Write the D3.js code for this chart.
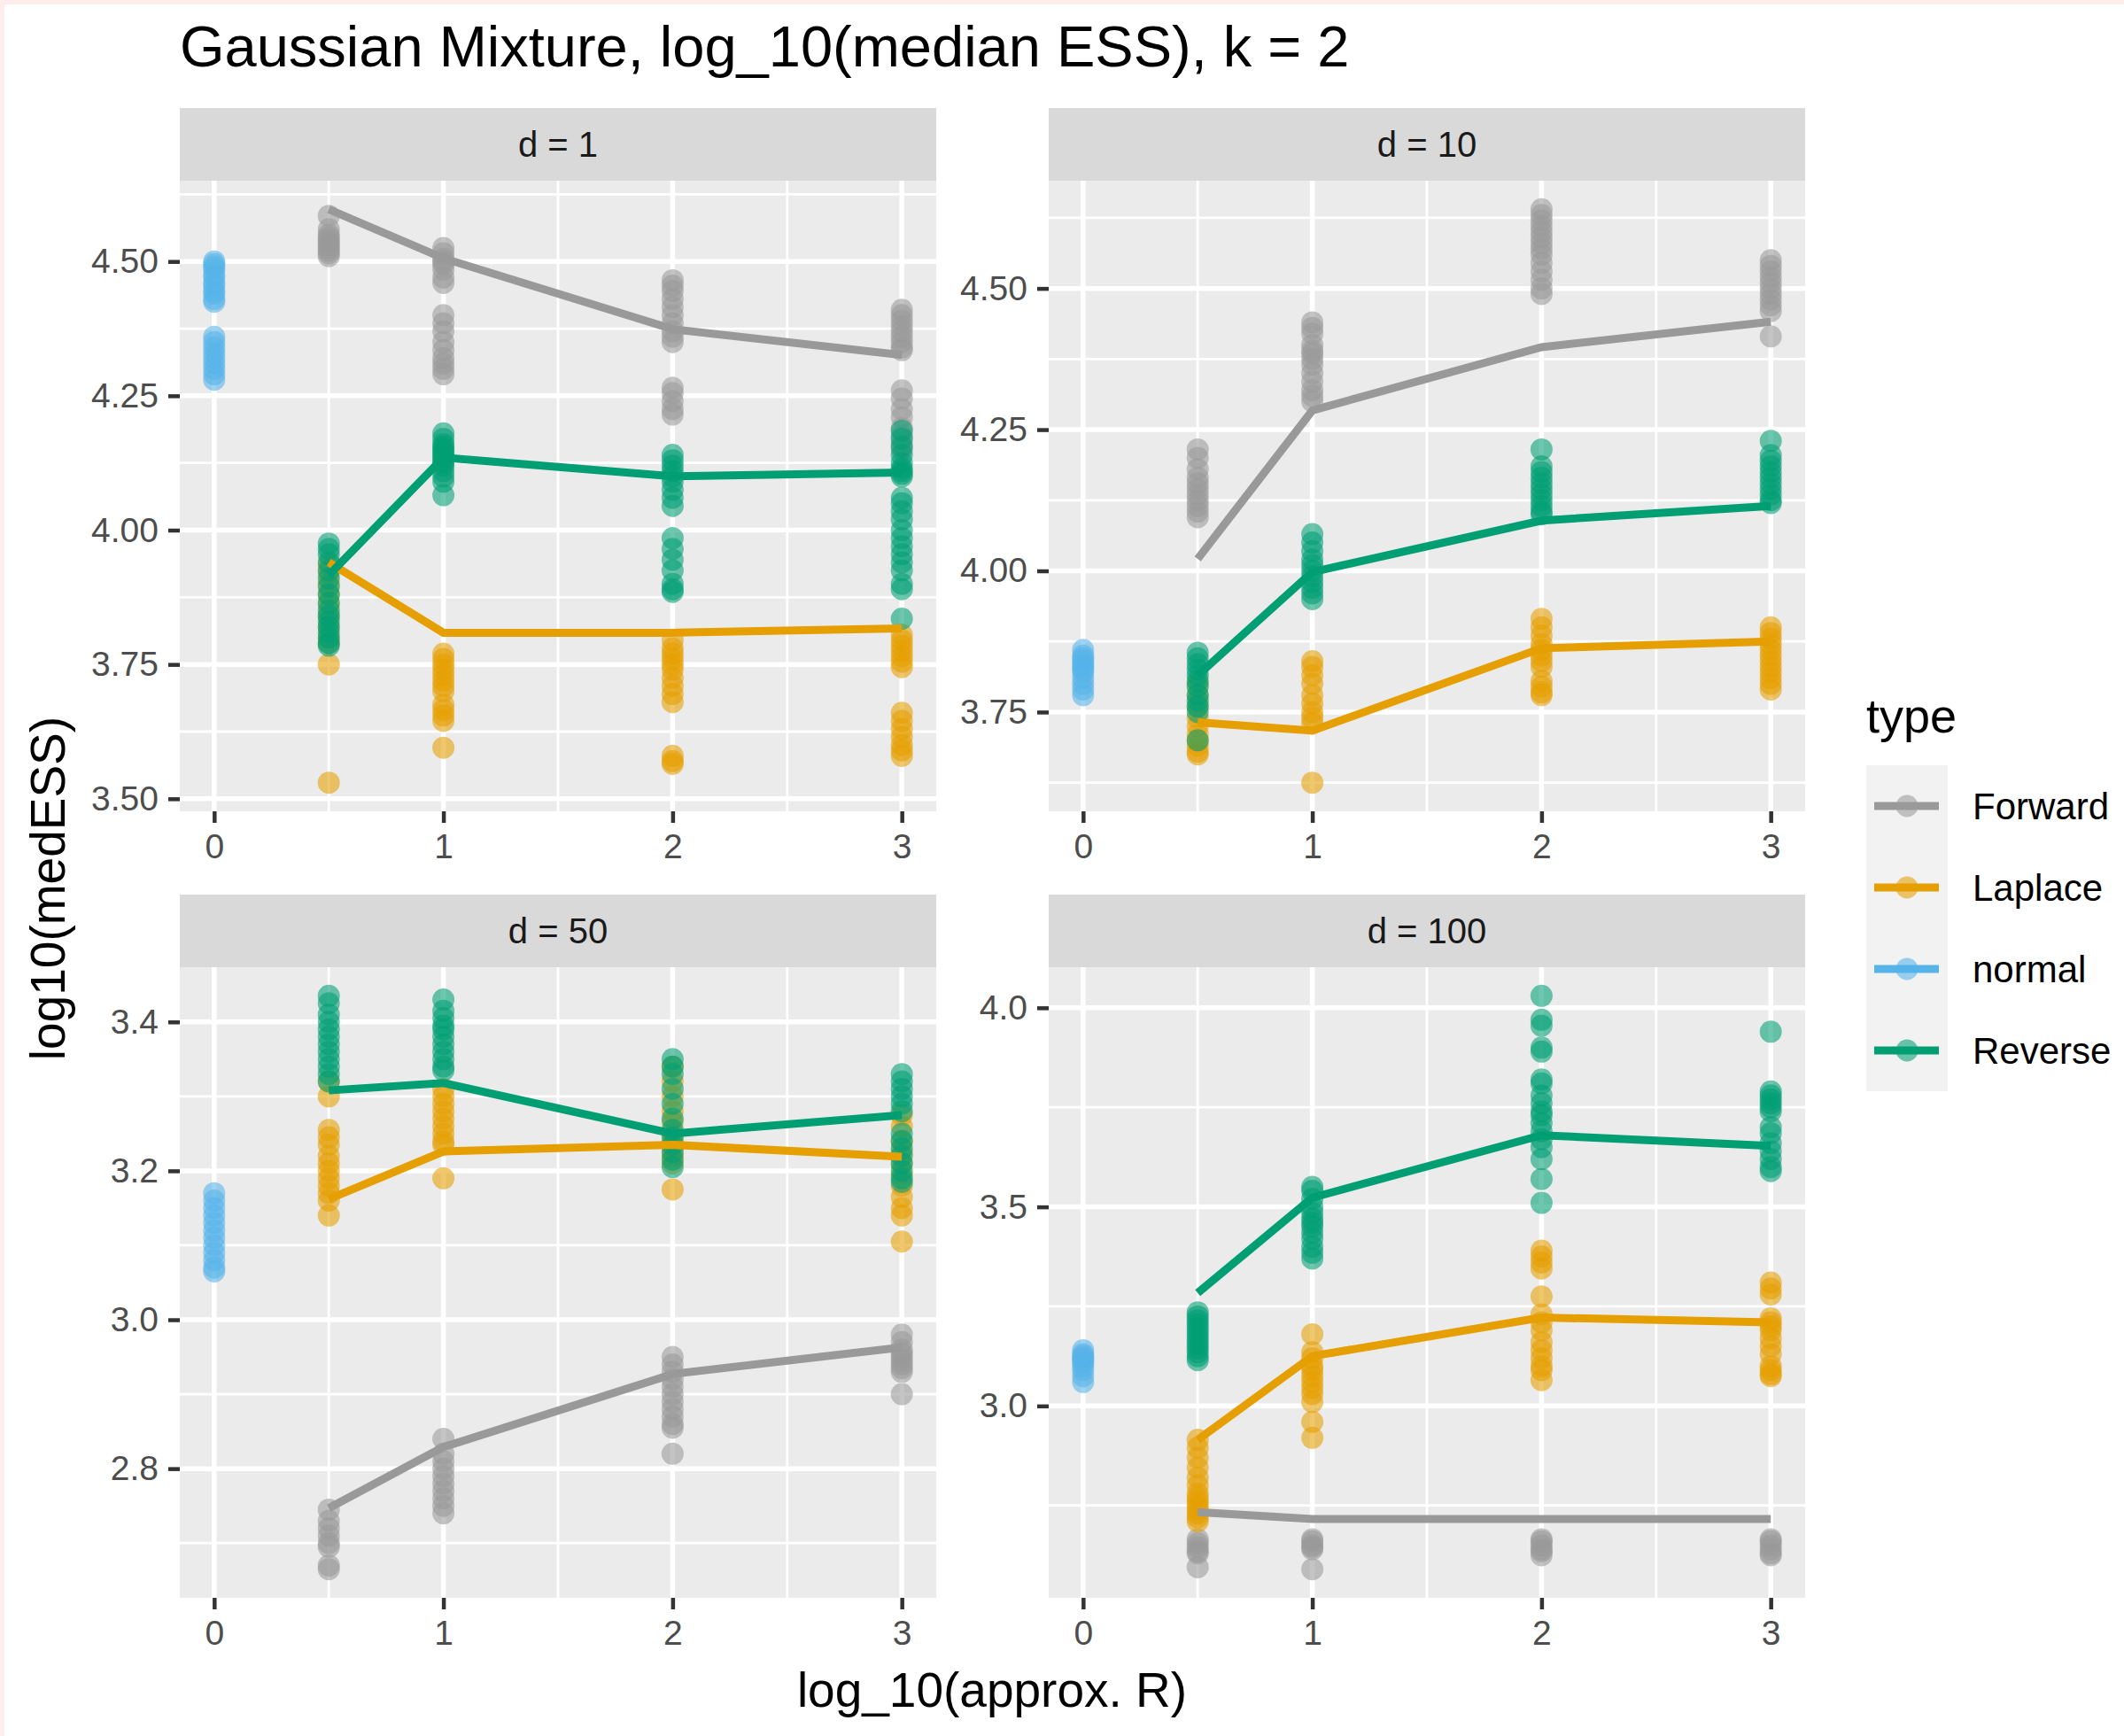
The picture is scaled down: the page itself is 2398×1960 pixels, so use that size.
<!DOCTYPE html>
<html>
<head>
<meta charset="utf-8">
<script src="https://cdn.jsdelivr.net/npm/d3@7"></script>
<style>
  body { margin: 0; background: #fff; }
  svg text { font-family: "Liberation Sans", Arial, Helvetica, sans-serif; }
</style>
</head>
<body>
<div id="chart"></div>
<script>
// facets, types and x positions
var panels = ["d = 1", "d = 10", "d = 50", "d = 100"]
var types = ["Forward", "Laplace", "normal", "Reverse"]
var colors = ["#999999", "#E69F00", "#56B4E9", "#009E73"]
var xLevels = [0.5, 1, 2, 3]
var xTicks = [0, 1, 2, 3]

// y tick labels for every facet (free scales)
var yTicks1 = [3.50, 3.75, 4.00, 4.25, 4.50]
var yTicks10 = [3.75, 4.00, 4.25, 4.50]
var yTicks50 = [2.8, 3.0, 3.2, 3.4]
var yTicks100 = [3.0, 3.5, 4.0]

// d = 1  (each inner list = points at x = 0.5, 1, 2, 3)
var d1Normal = [4.50, 4.495, 4.49, 4.485, 4.475, 4.47, 4.46, 4.455, 4.445, 4.44, 4.43, 4.425, 4.36, 4.35, 4.34, 4.33, 4.32, 4.31, 4.30, 4.29, 4.28]
var d1Forward = [
  [4.585, 4.56, 4.55, 4.545, 4.54, 4.535, 4.53, 4.525, 4.52, 4.515, 4.51],
  [4.525, 4.515, 4.505, 4.50, 4.495, 4.485, 4.47, 4.46, 4.40, 4.385, 4.37, 4.35, 4.335, 4.32, 4.31, 4.30, 4.29],
  [4.465, 4.455, 4.445, 4.43, 4.415, 4.40, 4.385, 4.37, 4.36, 4.35, 4.265, 4.255, 4.24, 4.225, 4.215],
  [4.41, 4.40, 4.39, 4.38, 4.37, 4.36, 4.35, 4.34, 4.335, 4.26, 4.245, 4.225, 4.21, 4.19, 4.175, 4.16, 4.15]]
var d1ForwardLine = [4.597, 4.506, 4.374, 4.326]
var d1Laplace = [
  [3.935, 3.92, 3.90, 3.88, 3.86, 3.84, 3.82, 3.80, 3.79, 3.75, 3.53],
  [3.77, 3.76, 3.75, 3.74, 3.73, 3.72, 3.71, 3.70, 3.675, 3.665, 3.655, 3.645, 3.595],
  [3.795, 3.78, 3.77, 3.76, 3.75, 3.74, 3.725, 3.71, 3.695, 3.68, 3.58, 3.57, 3.565],
  [3.805, 3.795, 3.785, 3.775, 3.765, 3.755, 3.745, 3.66, 3.645, 3.63, 3.615, 3.60, 3.59, 3.58]]
var d1LaplaceLine = [3.94, 3.809, 3.809, 3.817]
var d1Reverse = [
  [3.975, 3.965, 3.955, 3.94, 3.925, 3.91, 3.895, 3.88, 3.865, 3.85, 3.84, 3.83, 3.82, 3.81, 3.80, 3.79, 3.785],
  [4.18, 4.17, 4.16, 4.155, 4.15, 4.145, 4.14, 4.135, 4.13, 4.125, 4.12, 4.11, 4.10, 4.09, 4.065],
  [4.14, 4.13, 4.12, 4.11, 4.10, 4.09, 4.075, 4.06, 4.045, 3.985, 3.965, 3.945, 3.925, 3.90, 3.89, 3.885],
  [4.185, 4.17, 4.155, 4.14, 4.125, 4.115, 4.11, 4.105, 4.10, 4.06, 4.05, 4.035, 4.02, 4.0, 3.985, 3.97, 3.955, 3.94, 3.925, 3.90, 3.89, 3.835]]
var d1ReverseLine = [3.916, 4.135, 4.10, 4.107]

// d = 10
var d10Normal = [3.86, 3.85, 3.845, 3.84, 3.835, 3.83, 3.825, 3.82, 3.81, 3.80, 3.79, 3.78]
var d10Forward = [
  [4.215, 4.20, 4.18, 4.165, 4.155, 4.145, 4.135, 4.125, 4.115, 4.105, 4.095],
  [4.44, 4.43, 4.42, 4.40, 4.39, 4.385, 4.375, 4.365, 4.35, 4.335, 4.32, 4.31, 4.30],
  [4.64, 4.63, 4.62, 4.61, 4.60, 4.59, 4.58, 4.57, 4.56, 4.545, 4.53, 4.515, 4.50, 4.49],
  [4.55, 4.54, 4.53, 4.52, 4.51, 4.50, 4.49, 4.48, 4.47, 4.46, 4.415]]
var d10ForwardLine = [4.021, 4.284, 4.396, 4.441]
var d10Laplace = [
  [3.80, 3.78, 3.76, 3.74, 3.725, 3.71, 3.70, 3.69, 3.68, 3.675],
  [3.84, 3.83, 3.815, 3.80, 3.78, 3.765, 3.75, 3.74, 3.73, 3.625],
  [3.915, 3.90, 3.885, 3.87, 3.86, 3.85, 3.84, 3.83, 3.805, 3.795, 3.785, 3.78],
  [3.90, 3.89, 3.88, 3.87, 3.86, 3.85, 3.84, 3.83, 3.82, 3.81, 3.80, 3.79]]
var d10LaplaceLine = [3.732, 3.717, 3.863, 3.875]
var d10Reverse = [
  [3.855, 3.845, 3.835, 3.825, 3.815, 3.805, 3.795, 3.78, 3.77, 3.76, 3.75, 3.70],
  [4.065, 4.05, 4.035, 4.02, 4.01, 4.0, 3.99, 3.98, 3.97, 3.96, 3.95],
  [4.215, 4.185, 4.175, 4.165, 4.155, 4.145, 4.135, 4.125, 4.115, 4.105, 4.10],
  [4.23, 4.205, 4.195, 4.185, 4.175, 4.165, 4.155, 4.145, 4.135, 4.125, 4.12]]
var d10ReverseLine = [3.815, 3.998, 4.089, 4.115]

// d = 50
var d50Normal = [3.17, 3.16, 3.15, 3.14, 3.13, 3.12, 3.11, 3.10, 3.09, 3.08, 3.07, 3.065]
var d50Forward = [
  [2.745, 2.73, 2.72, 2.71, 2.70, 2.695, 2.67, 2.665],
  [2.84, 2.82, 2.81, 2.80, 2.79, 2.78, 2.77, 2.76, 2.75, 2.74],
  [2.95, 2.94, 2.93, 2.92, 2.91, 2.90, 2.89, 2.88, 2.87, 2.86, 2.855, 2.82],
  [2.98, 2.97, 2.96, 2.955, 2.95, 2.945, 2.94, 2.935, 2.93, 2.90]]
var d50ForwardLine = [2.747, 2.829, 2.927, 2.963]
var d50Laplace = [
  [3.32, 3.30, 3.255, 3.245, 3.235, 3.22, 3.21, 3.20, 3.19, 3.18, 3.17, 3.16, 3.14],
  [3.31, 3.30, 3.29, 3.28, 3.27, 3.26, 3.25, 3.24, 3.235, 3.19],
  [3.34, 3.32, 3.30, 3.28, 3.265, 3.25, 3.24, 3.23, 3.22, 3.21, 3.175],
  [3.275, 3.26, 3.24, 3.225, 3.21, 3.195, 3.18, 3.165, 3.15, 3.14, 3.105]]
var d50LaplaceLine = [3.162, 3.226, 3.235, 3.219]
var d50Reverse = [
  [3.435, 3.425, 3.41, 3.40, 3.39, 3.38, 3.37, 3.36, 3.35, 3.34, 3.33, 3.32],
  [3.43, 3.415, 3.405, 3.395, 3.39, 3.38, 3.37, 3.36, 3.35, 3.34, 3.335],
  [3.35, 3.34, 3.33, 3.31, 3.29, 3.27, 3.255, 3.245, 3.235, 3.225, 3.215, 3.205],
  [3.33, 3.32, 3.31, 3.30, 3.29, 3.28, 3.25, 3.24, 3.23, 3.22, 3.21, 3.20, 3.19, 3.185]]
var d50ReverseLine = [3.308, 3.318, 3.25, 3.275]

// d = 100
var d100Normal = [3.14, 3.13, 3.125, 3.12, 3.115, 3.11, 3.10, 3.09, 3.075, 3.06]
var d100Forward = [
  [2.665, 2.655, 2.645, 2.635, 2.63, 2.595],
  [2.665, 2.66, 2.65, 2.645, 2.64, 2.59],
  [2.665, 2.66, 2.65, 2.64, 2.635, 2.625],
  [2.665, 2.66, 2.65, 2.64, 2.63, 2.625]]
var d100ForwardLine = [2.733, 2.716, 2.716, 2.716]
var d100Laplace = [
  [2.915, 2.895, 2.87, 2.845, 2.82, 2.80, 2.78, 2.77, 2.76, 2.75, 2.74, 2.73, 2.72, 2.71],
  [3.18, 3.135, 3.12, 3.10, 3.09, 3.075, 3.06, 3.045, 3.03, 3.01, 2.96, 2.92],
  [3.39, 3.375, 3.36, 3.345, 3.275, 3.23, 3.21, 3.19, 3.16, 3.14, 3.12, 3.10, 3.09, 3.065],
  [3.31, 3.295, 3.28, 3.22, 3.21, 3.20, 3.19, 3.17, 3.15, 3.13, 3.10, 3.09, 3.08, 3.075]]
var d100LaplaceLine = [2.915, 3.125, 3.222, 3.21]
var d100Reverse = [
  [3.235, 3.225, 3.215, 3.205, 3.195, 3.185, 3.175, 3.165, 3.155, 3.145, 3.135, 3.125, 3.115],
  [3.55, 3.54, 3.52, 3.50, 3.485, 3.47, 3.46, 3.45, 3.435, 3.42, 3.40, 3.385, 3.37],
  [4.03, 3.97, 3.955, 3.90, 3.89, 3.82, 3.81, 3.78, 3.76, 3.74, 3.73, 3.71, 3.69, 3.67, 3.65, 3.62, 3.57, 3.51],
  [3.94, 3.79, 3.78, 3.77, 3.76, 3.75, 3.74, 3.70, 3.685, 3.66, 3.64, 3.62, 3.60, 3.59]]
var d100ReverseLine = [3.284, 3.523, 3.68, 3.653]

// build long tables of points and lines
var points = []
var lines = []

function addType(p, type, groups, lineVals) {
  groups.forEach(function(vals, i) {
    vals.forEach(function(v) { points.push({panel: p, type: type, x: xLevels[i], y: v}) })
  })
  lines.push({panel: p, type: type, values: lineVals.map(function(v, i) { return {x: xLevels[i], y: v} })})
}
function addNormal(p, vals) {
  vals.forEach(function(v) { points.push({panel: p, type: "normal", x: 0, y: v}) })
}

addType(0, "Forward", d1Forward, d1ForwardLine)
addType(0, "Laplace", d1Laplace, d1LaplaceLine)
addNormal(0, d1Normal)
addType(0, "Reverse", d1Reverse, d1ReverseLine)
addType(1, "Forward", d10Forward, d10ForwardLine)
addType(1, "Laplace", d10Laplace, d10LaplaceLine)
addNormal(1, d10Normal)
addType(1, "Reverse", d10Reverse, d10ReverseLine)
addType(2, "Forward", d50Forward, d50ForwardLine)
addType(2, "Laplace", d50Laplace, d50LaplaceLine)
addNormal(2, d50Normal)
addType(2, "Reverse", d50Reverse, d50ReverseLine)
addType(3, "Forward", d100Forward, d100ForwardLine)
addType(3, "Laplace", d100Laplace, d100LaplaceLine)
addNormal(3, d100Normal)
addType(3, "Reverse", d100Reverse, d100ReverseLine)

var yTicksAll = [yTicks1, yTicks10, yTicks50, yTicks100]
var yFormats = [d3.format(".2f"), d3.format(".2f"), d3.format(".1f"), d3.format(".1f")]

var color = d3.scaleOrdinal().domain(types).range(colors)

// layout
var W = 2398, H = 1960
var panelW = 854, panelH = 712
var panelLeft = [203, 1184]
var stripTop = [122, 1010]
var stripH = 82

var svg = d3.select("#chart").append("svg")
    .attr("width", W)
    .attr("height", H)

svg.append("rect").attr("width", W).attr("height", H).attr("fill", "#fff")
// thin pink frame on top and left edge
svg.append("rect").attr("width", W).attr("height", 5).attr("fill", "#FDEEEB")
svg.append("rect").attr("width", 5).attr("height", H).attr("fill", "#FDEEEB")

panels.forEach(function(label, p) {
  var col = p % 2, row = Math.floor(p / 2)
  var left = panelLeft[col]
  var top = stripTop[row] + stripH

  var x = d3.scaleLinear().domain([-0.15, 3.15]).range([left, left + panelW])

  // free y scale with ggplot's 5% expansion
  var pPoints = points.filter(function(d) { return d.panel == p })
  var pLines = lines.filter(function(d) { return d.panel == p })
  var allY = pPoints.map(function(d) { return d.y })
  pLines.forEach(function(l) { l.values.forEach(function(v) { allY.push(v.y) }) })
  var ext = d3.extent(allY), pad = (ext[1] - ext[0]) * 0.05
  var y = d3.scaleLinear().domain([ext[0] - pad, ext[1] + pad]).range([top + panelH, top])

  var yt = yTicksAll[p]
  var step = yt[1] - yt[0]
  var yMinor = []
  for (var v = yt[0] - step / 2; v <= yt[yt.length - 1] + step; v += step) {
    if (v >= y.domain()[0] && v <= y.domain()[1]) yMinor.push(v)
  }
  var xMinor = [0.5, 1.5, 2.5]

  var g = svg.append("g")

  // panel background
  g.append("rect")
    .attr("x", left).attr("y", top)
    .attr("width", panelW).attr("height", panelH)
    .attr("fill", "#EBEBEB")

  // minor grid
  g.selectAll(".ymin").data(yMinor).enter().append("line")
    .attr("x1", left).attr("x2", left + panelW)
    .attr("y1", function(d) { return y(d) }).attr("y2", function(d) { return y(d) })
    .attr("stroke", "#fff").attr("stroke-width", 2.8)
  g.selectAll(".xmin").data(xMinor).enter().append("line")
    .attr("y1", top).attr("y2", top + panelH)
    .attr("x1", function(d) { return x(d) }).attr("x2", function(d) { return x(d) })
    .attr("stroke", "#fff").attr("stroke-width", 2.8)

  // major grid
  g.selectAll(".ymaj").data(yt).enter().append("line")
    .attr("x1", left).attr("x2", left + panelW)
    .attr("y1", function(d) { return y(d) }).attr("y2", function(d) { return y(d) })
    .attr("stroke", "#fff").attr("stroke-width", 5.5)
  g.selectAll(".xmaj").data(xTicks).enter().append("line")
    .attr("y1", top).attr("y2", top + panelH)
    .attr("x1", function(d) { return x(d) }).attr("x2", function(d) { return x(d) })
    .attr("stroke", "#fff").attr("stroke-width", 5.5)

  // points, drawn type by type
  var ordered = pPoints.slice().sort(function(a, b) { return types.indexOf(a.type) - types.indexOf(b.type) })
  g.selectAll(".pt").data(ordered).enter().append("circle")
    .attr("cx", function(d) { return x(d.x) })
    .attr("cy", function(d) { return y(d.y) })
    .attr("r", 12.5)
    .attr("fill", function(d) { return color(d.type) })
    .attr("fill-opacity", 0.58)

  // lines on top
  var lineGen = d3.line().x(function(d) { return x(d.x) }).y(function(d) { return y(d.y) })
  g.selectAll(".ln").data(pLines).enter().append("path")
    .attr("d", function(d) { return lineGen(d.values) })
    .attr("fill", "none")
    .attr("stroke", function(d) { return color(d.type) })
    .attr("stroke-width", 9)

  // strip
  g.append("rect")
    .attr("x", left).attr("y", stripTop[row])
    .attr("width", panelW).attr("height", stripH)
    .attr("fill", "#D9D9D9")
  g.append("text")
    .attr("x", left + panelW / 2).attr("y", stripTop[row] + stripH / 2)
    .attr("text-anchor", "middle")
    .attr("dominant-baseline", "central")
    .attr("font-size", 40)
    .attr("fill", "#1A1A1A")
    .text(label)

  // axes
  var yAxis = g.append("g")
    .attr("transform", "translate(" + left + ",0)")
    .call(d3.axisLeft(y).tickValues(yt).tickFormat(yFormats[p]).tickSize(13).tickPadding(11))
  var xAxis = g.append("g")
    .attr("transform", "translate(0," + (top + panelH) + ")")
    .call(d3.axisBottom(x).tickValues(xTicks).tickFormat(d3.format("d")).tickSize(13).tickPadding(12))

  ;[yAxis, xAxis].forEach(function(a) {
    a.select(".domain").remove()
    a.attr("font-size", 39).attr("font-family", null)
    a.selectAll(".tick line").attr("stroke", "#333333").attr("stroke-width", 4.5)
    a.selectAll(".tick text").attr("fill", "#4D4D4D")
  })
})

// title and axis titles
svg.append("text")
  .attr("x", 203).attr("y", 75)
  .attr("font-size", 65)
  .attr("fill", "#000")
  .text("Gaussian Mixture, log_10(median ESS), k = 2")

svg.append("text")
  .attr("x", 1120).attr("y", 1927)
  .attr("text-anchor", "middle")
  .attr("font-size", 55)
  .attr("fill", "#000")
  .text("log_10(approx. R)")

svg.append("text")
  .attr("transform", "translate(73,1003) rotate(-90)")
  .attr("text-anchor", "middle")
  .attr("font-size", 55)
  .attr("fill", "#000")
  .text("log10(medESS)")

// legend
var legend = svg.append("g")
legend.append("text")
  .attr("x", 2107).attr("y", 827)
  .attr("font-size", 54)
  .attr("fill", "#000")
  .text("type")

var keys = legend.selectAll(".key").data(types).enter().append("g")
  .attr("transform", function(d, i) { return "translate(2107," + (864 + i * 92) + ")" })
keys.append("rect")
  .attr("width", 92).attr("height", 92)
  .attr("fill", "#F2F2F2")
keys.append("line")
  .attr("x1", 9).attr("x2", 82).attr("y1", 46).attr("y2", 46)
  .attr("stroke", function(d) { return color(d) })
  .attr("stroke-width", 9)
keys.append("circle")
  .attr("cx", 46).attr("cy", 46).attr("r", 12.5)
  .attr("fill", function(d) { return color(d) })
  .attr("fill-opacity", 0.58)
keys.append("text")
  .attr("x", 120).attr("y", 46)
  .attr("dominant-baseline", "central")
  .attr("font-size", 42)
  .attr("fill", "#000")
  .text(function(d) { return d })
</script>
</body>
</html>
